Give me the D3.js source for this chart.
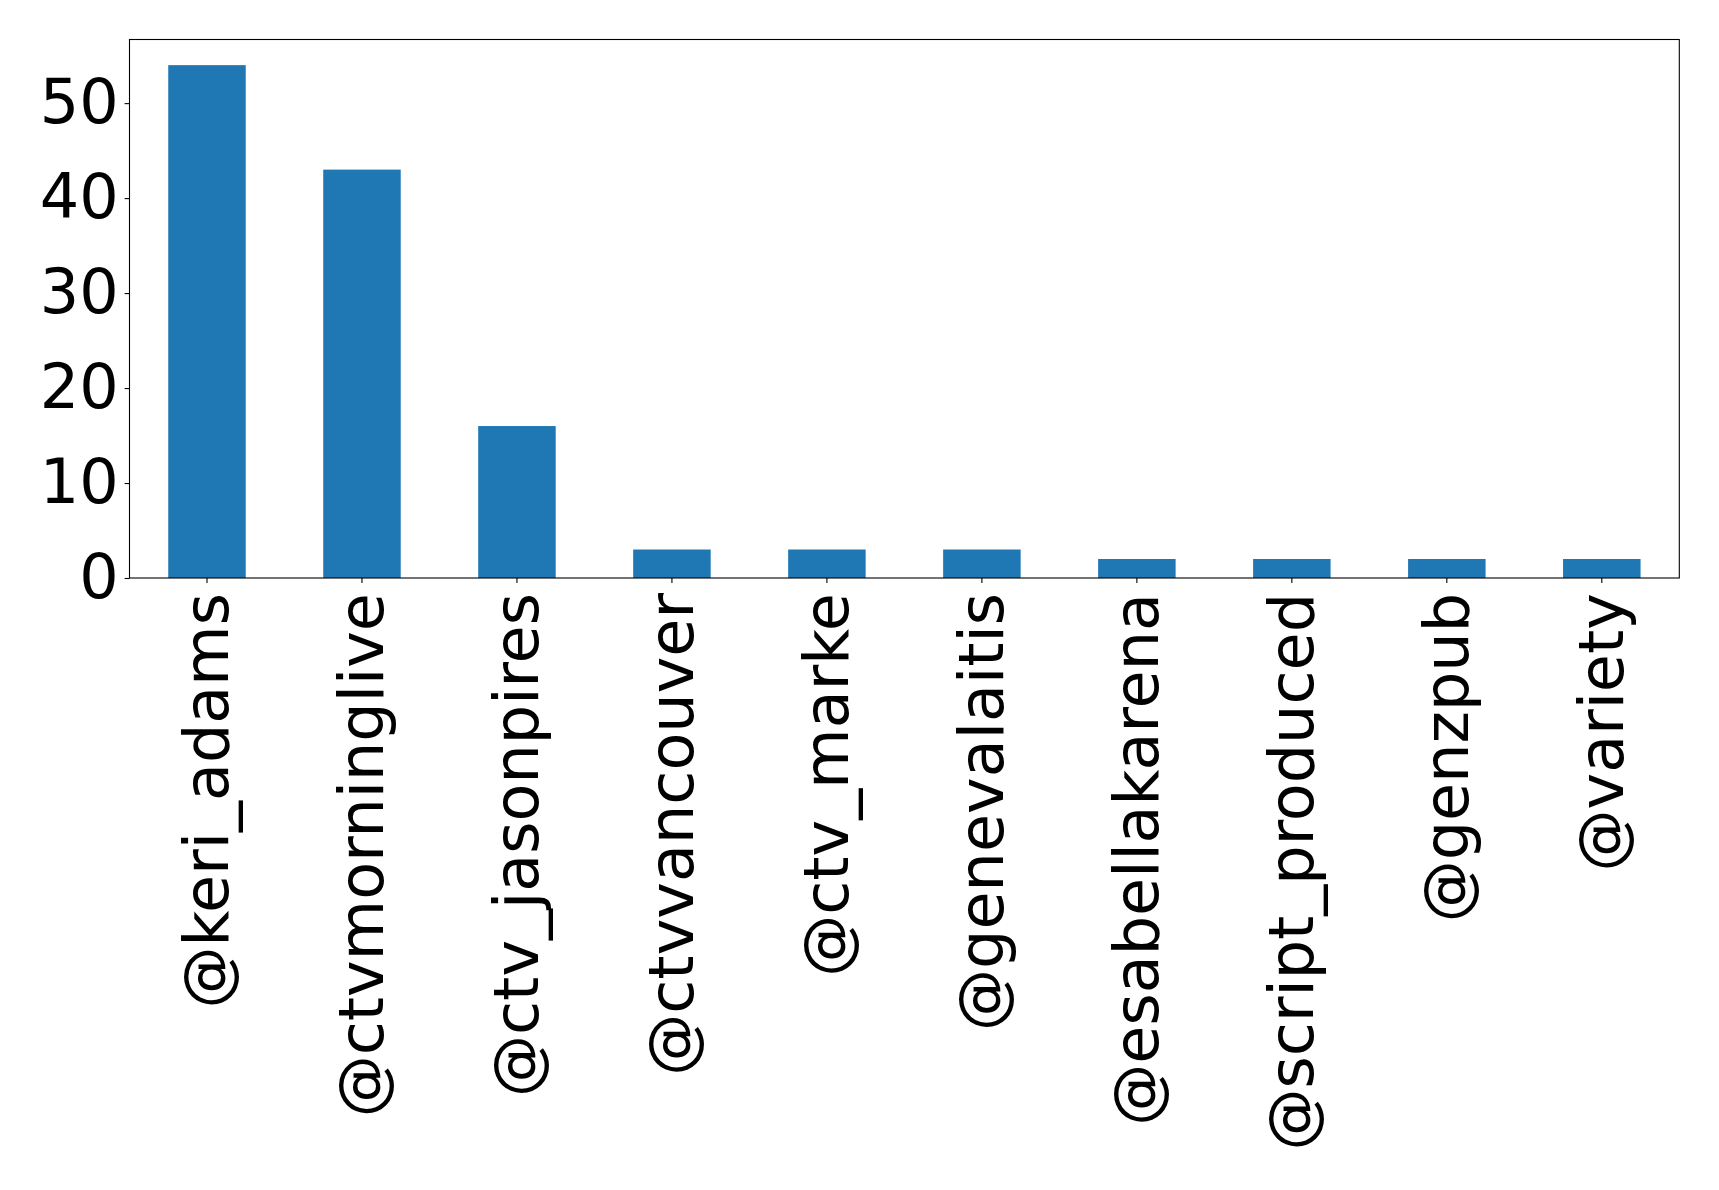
<!DOCTYPE html>
<html>
<head>
<meta charset="utf-8">
<script src="https://cdn.jsdelivr.net/npm/d3@7"></script>
<style>
  html, body { margin: 0; padding: 0; background: #fff; }
  svg { display: block; }
  text { font-family: "DejaVu Sans", sans-serif; }
</style>
</head>
<body>
<script>
const categories = ["@keri_adams", "@ctvmorninglive", "@ctv_jasonpires", "@ctvvancouver", "@ctv_marke", "@genevalaitis", "@esabellakarena", "@script_produced", "@genzpub", "@variety"];
const counts = [54, 43, 16, 3, 3, 3, 2, 2, 2, 2];
const yTicks = [0, 10, 20, 30, 40, 50];

const W = 1719, H = 1190;
const margin = {left: 129.5, right: W - 1679.3, top: 39.5, bottom: H - 578};

const svg = d3.select("body").append("svg").attr("width", W).attr("height", H);

const x = d3.scaleBand().domain(categories)
  .range([margin.left, W - margin.right]).paddingInner(0.5).paddingOuter(0.25);
const yMax = d3.max(counts) * 1.05;
const y = d3.scaleLinear().domain([0, yMax]).range([H - margin.bottom, margin.top]);

svg.append("g").selectAll("rect").data(counts).join("rect")
  .attr("x", (d, i) => x(categories[i]))
  .attr("y", d => y(d))
  .attr("width", x.bandwidth())
  .attr("height", d => y(0) - y(d))
  .attr("fill", "#1f77b4");

const yAxis = svg.append("g").attr("transform", `translate(${margin.left},0)`)
  .call(d3.axisLeft(y).tickValues(yTicks).tickSize(4.9).tickPadding(6).tickFormat(d3.format("d")));
yAxis.select(".domain").remove();
yAxis.selectAll("text").attr("font-size", 62).attr("fill", "#000").attr("font-family", "DejaVu Sans");
yAxis.selectAll("line").attr("stroke", "#000").attr("stroke-width", 1.1);

const xAxis = svg.append("g").attr("transform", `translate(0,${H - margin.bottom})`)
  .call(d3.axisBottom(x).tickSize(4.9).tickPadding(0));
xAxis.select(".domain").remove();
xAxis.selectAll("line").attr("stroke", "#000").attr("stroke-width", 1.1);
xAxis.selectAll("text")
  .attr("font-size", 62).attr("fill", "#000").attr("font-family", "DejaVu Sans")
  .attr("text-anchor", "end")
  .attr("dy", null)
  .attr("dominant-baseline", "central")
  .attr("transform", "translate(0,15) rotate(-90)")
  .attr("x", 0).attr("y", 0);

svg.append("rect")
  .attr("x", margin.left).attr("y", margin.top)
  .attr("width", W - margin.right - margin.left)
  .attr("height", H - margin.bottom - margin.top)
  .attr("fill", "none").attr("stroke", "#000").attr("stroke-width", 1.1);
</script>
</body>
</html>
